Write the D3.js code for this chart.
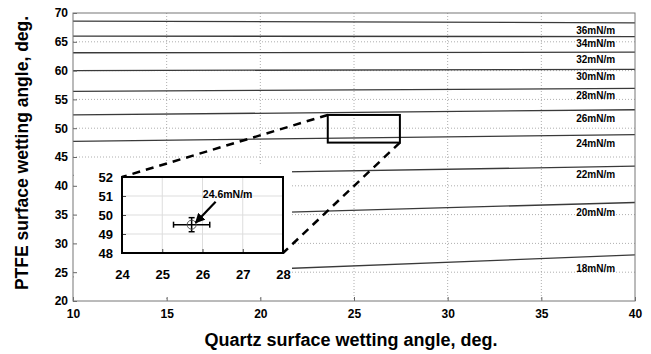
<!DOCTYPE html>
<html>
<head>
<meta charset="utf-8">
<script src="https://cdn.jsdelivr.net/npm/d3@7"></script>
<style>
  body { margin: 0; background: #fff; }
  svg { display: block; font-family: "Liberation Sans", Arial, sans-serif; }
  .tick text { font-weight: bold; }
</style>
</head>
<body>
<svg id="chart"></svg>
<script>
// surface tension isolines (mN/m), PTFE angle at quartz = 10 and 40
const TENSIONS = [36, 34, 32, 30, 28, 26, 24, 22, 20, 18];
const LINE_X = [10, 40];
const LINE_Y_LEFT = [68.6, 66.0, 63.1, 60.0, 56.4, 52.3, 47.7, 41.8, 34.4, 24.2];
const LINE_Y_RIGHT = [68.3, 65.9, 63.2, 60.2, 56.9, 53.2, 48.9, 43.4, 37.1, 28.0];
const LABEL_X = 37.9;
const LABEL_Y = [66.9, 64.7, 62.0, 58.9, 55.6, 51.6, 47.3, 42.0, 35.4, 25.7];

const X_TICKS = [10, 15, 20, 25, 30, 35, 40];
const Y_TICKS = [20, 25, 30, 35, 40, 45, 50, 55, 60, 65, 70];

// zoom window on the main plot
const ZOOM_X = [23.6, 27.45];
const ZOOM_Y = [47.5, 52.3];

// inset (enlarged) data
const INSET_X_TICKS = [24, 25, 26, 27, 28];
const INSET_Y_TICKS = [48, 49, 50, 51, 52];
const POINT = { x: 25.73, y: 49.49, xErr: 0.45, yErr: 0.37, label: "24.6mN/m" };

const config = {
  width: 651, height: 354,
  margin: { top: 13, right: 16, bottom: 53, left: 73 },
  inset: { left: 122, right: 283, top: 177, bottom: 253 },
  insetPanel: { left: 73.5, right: 292, top: 165, bottom: 297 },
};

const svg = d3.select("#chart")
  .attr("width", config.width)
  .attr("height", config.height);

const w = config.width - config.margin.left - config.margin.right;
const h = config.height - config.margin.top - config.margin.bottom;
const ml = config.margin.left, mt = config.margin.top;

const x = d3.scaleLinear().domain([10, 40]).range([0, w]);
const y = d3.scaleLinear().domain([20, 70]).range([h, 0]);

const chart = svg.append("g")
  .attr("transform", `translate(${ml}, ${mt})`);

// grid
chart.append("g")
  .selectAll("line")
  .data(X_TICKS.slice(1, -1))
  .join("line")
  .attr("x1", d => x(d)).attr("x2", d => x(d))
  .attr("y1", 0).attr("y2", h)
  .attr("stroke", "#999").attr("stroke-width", 0.8)
  .attr("stroke-dasharray", "1,2");
chart.append("g")
  .selectAll("line")
  .data(Y_TICKS.slice(1, -1))
  .join("line")
  .attr("y1", d => y(d)).attr("y2", d => y(d))
  .attr("x1", 0).attr("x2", w)
  .attr("stroke", "#999").attr("stroke-width", 0.8)
  .attr("stroke-dasharray", "1,2");

// isolines
const lineData = TENSIONS.map((t, i) => ({
  t,
  pts: [[LINE_X[0], LINE_Y_LEFT[i]], [LINE_X[1], LINE_Y_RIGHT[i]]],
}));
const line = d3.line().x(d => x(d[0])).y(d => y(d[1]));
chart.append("g")
  .selectAll("path")
  .data(lineData)
  .join("path")
  .attr("d", d => line(d.pts))
  .attr("fill", "none")
  .attr("stroke", "#3a3a3a")
  .attr("stroke-width", 1.3);

chart.append("g")
  .selectAll("text")
  .data(TENSIONS)
  .join("text")
  .attr("x", x(LABEL_X))
  .attr("y", (d, i) => y(LABEL_Y[i]))
  .attr("dy", "0.35em")
  .attr("text-anchor", "middle")
  .attr("font-size", 10)
  .attr("font-weight", "bold")
  .text(d => `${d}mN/m`);

// white panel behind the inset (hides the main plot there)
const panel = config.insetPanel;
svg.append("rect")
  .attr("x", panel.left).attr("y", panel.top)
  .attr("width", panel.right - panel.left)
  .attr("height", panel.bottom - panel.top)
  .attr("fill", "#fff");

// axes
const xAxis = d3.axisBottom(x).tickValues(X_TICKS).tickSizeInner(-4).tickSizeOuter(0).tickPadding(8);
const yAxis = d3.axisLeft(y).tickValues(Y_TICKS).tickSizeInner(-4).tickSizeOuter(0).tickPadding(5);

const axes = svg.append("g")
  .attr("transform", `translate(${ml}, ${mt})`);
axes.append("g")
  .attr("transform", `translate(0, ${h})`)
  .call(xAxis)
  .call(g => g.select(".domain").remove())
  .call(g => g.selectAll("text").attr("font-size", 12).attr("fill", "#000"))
  .call(g => g.selectAll("line").attr("stroke", "#666"));
axes.append("g")
  .call(yAxis)
  .call(g => g.select(".domain").remove())
  .call(g => g.selectAll("text").attr("font-size", 12).attr("fill", "#000"))
  .call(g => g.selectAll("line").attr("stroke", "#666"));

axes.append("rect")
  .attr("width", w).attr("height", h)
  .attr("fill", "none")
  .attr("stroke", "#777").attr("stroke-width", 1);

// zoom window
axes.append("rect")
  .attr("x", x(ZOOM_X[0])).attr("y", y(ZOOM_Y[1]))
  .attr("width", x(ZOOM_X[1]) - x(ZOOM_X[0]))
  .attr("height", y(ZOOM_Y[0]) - y(ZOOM_Y[1]))
  .attr("fill", "none")
  .attr("stroke", "#000").attr("stroke-width", 2);

// inset
const ins = config.inset;
const xi = d3.scaleLinear().domain([24, 28]).range([ins.left, ins.right]);
const yi = d3.scaleLinear().domain([48, 52]).range([ins.bottom, ins.top]);

const inset = svg.append("g");

inset.append("g")
  .selectAll("line")
  .data(INSET_X_TICKS.slice(1, -1))
  .join("line")
  .attr("x1", d => xi(d)).attr("x2", d => xi(d))
  .attr("y1", ins.top).attr("y2", ins.bottom)
  .attr("stroke", "#ddd").attr("stroke-width", 1);
inset.append("g")
  .selectAll("line")
  .data(INSET_Y_TICKS.slice(1, -1))
  .join("line")
  .attr("y1", d => yi(d)).attr("y2", d => yi(d))
  .attr("x1", ins.left).attr("x2", ins.right)
  .attr("stroke", "#ddd").attr("stroke-width", 1);

inset.append("g")
  .attr("transform", `translate(0, ${ins.bottom})`)
  .call(d3.axisBottom(xi).tickValues(INSET_X_TICKS).tickFormat(d3.format("d"))
    .tickSizeInner(-4).tickSizeOuter(0).tickPadding(17))
  .call(g => g.select(".domain").remove())
  .call(g => g.selectAll("text").attr("font-size", 13).attr("fill", "#000"))
  .call(g => g.selectAll("line").attr("stroke", "#444"));
inset.append("g")
  .attr("transform", `translate(${ins.left}, 0)`)
  .call(d3.axisLeft(yi).tickValues(INSET_Y_TICKS).tickFormat(d3.format("d"))
    .tickSizeInner(-4).tickSizeOuter(0).tickPadding(9))
  .call(g => g.select(".domain").remove())
  .call(g => g.selectAll("text").attr("font-size", 13).attr("fill", "#000"))
  .call(g => g.selectAll("line").attr("stroke", "#444"));

inset.append("rect")
  .attr("x", ins.left).attr("y", ins.top)
  .attr("width", ins.right - ins.left).attr("height", ins.bottom - ins.top)
  .attr("fill", "none")
  .attr("stroke", "#000").attr("stroke-width", 2);

// error bars and marker
const px = xi(POINT.x), py = yi(POINT.y);
const eb = inset.append("g").attr("stroke", "#000").attr("stroke-width", 1.5);
eb.append("line")
  .attr("x1", xi(POINT.x - POINT.xErr)).attr("x2", xi(POINT.x + POINT.xErr))
  .attr("y1", py).attr("y2", py);
eb.append("line")
  .attr("y1", yi(POINT.y - POINT.yErr)).attr("y2", yi(POINT.y + POINT.yErr))
  .attr("x1", px).attr("x2", px);
[POINT.x - POINT.xErr, POINT.x + POINT.xErr].forEach(v => {
  eb.append("line").attr("x1", xi(v)).attr("x2", xi(v)).attr("y1", py - 3).attr("y2", py + 3);
});
[POINT.y - POINT.yErr, POINT.y + POINT.yErr].forEach(v => {
  eb.append("line").attr("y1", yi(v)).attr("y2", yi(v)).attr("x1", px - 3).attr("x2", px + 3);
});
inset.append("circle")
  .attr("cx", px).attr("cy", py).attr("r", 4.5)
  .attr("fill", "none").attr("stroke", "#555").attr("stroke-width", 1);

// annotation arrow
svg.append("defs").append("marker")
  .attr("id", "arrow")
  .attr("viewBox", "0 0 10 10")
  .attr("refX", 9).attr("refY", 5)
  .attr("markerWidth", 4.5).attr("markerHeight", 4.5)
  .attr("orient", "auto")
  .append("path")
  .attr("d", "M0,0 L10,5 L0,10 z")
  .attr("fill", "#000");

inset.append("line")
  .attr("x1", px + 24).attr("y1", py - 23)
  .attr("x2", px + 4).attr("y2", py - 2)
  .attr("stroke", "#000").attr("stroke-width", 2.2)
  .attr("marker-end", "url(#arrow)");
inset.append("text")
  .attr("x", px + 36).attr("y", py - 27)
  .attr("text-anchor", "middle")
  .attr("font-size", 10.5)
  .attr("font-weight", "bold")
  .text(POINT.label);

// dashed connectors from zoom window to inset
const connectors = [
  [[ml + x(ZOOM_X[0]), mt + y(ZOOM_Y[1])], [ins.left, ins.top]],
  [[ml + x(ZOOM_X[1]), mt + y(ZOOM_Y[0])], [ins.right, ins.bottom]],
];
svg.append("g")
  .selectAll("line")
  .data(connectors)
  .join("line")
  .attr("x1", d => d[0][0]).attr("y1", d => d[0][1])
  .attr("x2", d => d[1][0]).attr("y2", d => d[1][1])
  .attr("stroke", "#000").attr("stroke-width", 2.5)
  .attr("stroke-dasharray", "8,6");

// axis titles
svg.append("text")
  .attr("x", ml + w / 2 - 3).attr("y", 346)
  .attr("text-anchor", "middle")
  .attr("font-size", 18).attr("font-weight", "bold")
  .text("Quartz surface wetting angle, deg.");
svg.append("text")
  .attr("transform", `translate(28, ${mt + h / 2 - 4}) rotate(-90)`)
  .attr("text-anchor", "middle")
  .attr("font-size", 17.5).attr("font-weight", "bold")
  .text("PTFE surface wetting angle, deg.");
</script>
</body>
</html>
